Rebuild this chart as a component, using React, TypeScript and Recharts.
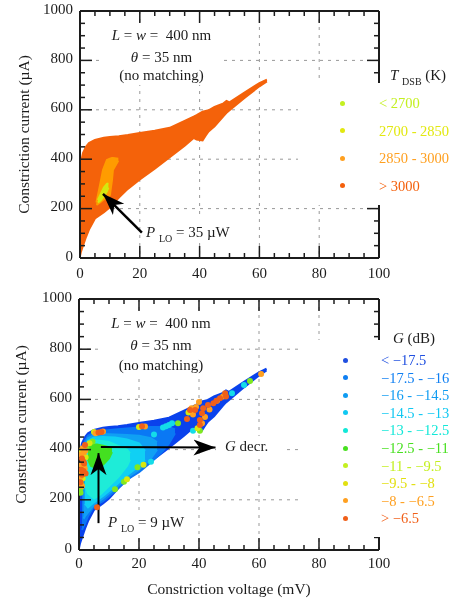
import React from 'react';
import { ComposedChart, Area, Scatter, XAxis, YAxis, CartesianGrid, ReferenceLine, Legend } from 'recharts';

const FONT = '"Liberation Serif", serif';
const INK = '#1c1c1c';

// Outer envelope of the bias region (mV, µA)
const envelopeV = [0, 0.3, 1, 2, 3, 5, 8, 10, 13, 16, 20, 25, 30, 35, 38, 39, 41, 42, 43, 45, 48, 49, 50, 55, 60, 62.5];
const envelopeLo = [8, 25, 50, 85, 115, 160, 185, 205, 245, 280, 318, 362, 408, 455, 486, 480, 476, 495, 512, 533, 575, 588, 598, 648, 695, 715];
const envelopeHi = [340, 385, 425, 450, 465, 478, 487, 490, 493, 498, 506, 515, 527, 555, 572, 578, 592, 595, 598, 612, 626, 636, 630, 670, 708, 722];

// T_DSB regions
const amberV = [5.5, 6.7, 7.7, 9, 10, 10.7, 11, 12.8];
const amberLo = [215, 225, 235, 245, 255, 316, 356, 395];
const amberHi = [225, 295, 356, 397, 402, 405, 405, 402];
const yellowV = [6, 7, 8, 9, 9.5];
const yellowLo = [225, 235, 250, 270, 285];
const yellowHi = [235, 260, 285, 300, 302];

// G regions, from outside to inside
const band1V = [1, 2, 3, 5, 8, 12, 16, 20, 24, 28, 30, 32];
const band1Lo = [80, 105, 135, 175, 195, 235, 280, 310, 350, 395, 425, 465];
const band1Hi = [300, 435, 455, 468, 475, 480, 484, 488, 490, 490, 490, 480];
const band2V = [1.5, 2, 3, 5, 8, 12, 16, 20, 24, 26];
const band2Lo = [125, 135, 150, 180, 205, 245, 288, 320, 365, 400];
const band2Hi = [250, 420, 445, 458, 462, 460, 458, 455, 445, 430];
const band3V = [2, 3, 5, 8, 12, 16, 20, 22];
const band3Lo = [185, 170, 190, 215, 255, 298, 335, 360];
const band3Hi = [300, 435, 448, 450, 448, 440, 425, 395];
const band4V = [2, 3, 5, 7, 10, 13, 16, 17];
const band4Lo = [265, 225, 205, 220, 255, 290, 335, 360];
const band4Hi = [380, 425, 435, 435, 430, 415, 400, 385];
const band5V = [3, 4, 6, 8, 10, 11];
const band5Lo = [360, 335, 325, 340, 365, 390];
const band5Hi = [410, 420, 420, 415, 410, 405];

// G scattered points
const ptsCyanV = [25, 28, 29, 30, 31, 51, 55, 38, 24];
const ptsCyanI = [460, 488, 493, 498, 505, 625, 657, 475, 352];
const ptsGreenV = [12, 15, 19.5, 33, 57, 40.3, 0.5, 0.5, 0.7, 2.5, 4.5];
const ptsGreenI = [242, 272, 330, 505, 673, 475, 228, 245, 262, 405, 432];
const ptsYellowV = [16, 21.5, 20, 0.8, 1.2, 3.5, 5, 39.5, 36.5, 2.2, 0.6];
const ptsYellowI = [282, 340, 490, 395, 285, 425, 470, 485, 548, 370, 310];
const ptsAmberV = [22, 0.7, 1.6, 0.8, 1.7, 0.5, 1, 60.7, 42, 39, 41, 46, 48, 38, 40, 5.5, 8, 43.5, 37.5, 2.1, 1.2, 1.9];
const ptsAmberI = [492, 380, 388, 340, 332, 292, 255, 701, 530, 570, 505, 595, 612, 540, 590, 465, 472, 560, 565, 395, 405, 325];
const ptsRedV = [6, 6.5, 7.5, 21, 2, 1, 1.5, 1.7, 0.8, 1.5, 1, 2.2, 0.5, 48.7, 47, 44.8, 43, 41.4, 41, 40.3, 40.3, 38.7, 37, 36, 45.8, 49];
const ptsRedI = [170, 468, 470, 493, 418, 365, 352, 345, 320, 315, 300, 305, 270, 625, 605, 585, 578, 565, 545, 518, 498, 558, 558, 522, 595, 612];

// Legends
const tLabels = ['< 2700', '2700 - 2850', '2850 - 3000', '> 3000'];
const tColors = ['#c4f020', '#e2e810', '#ffa020', '#f4600c'];
const gLabels = ['< \u221217.5', '\u221217.5 - \u221216', '\u221216 - \u221214.5', '\u221214.5 - \u221213', '\u221213 - \u221212.5', '\u221212.5 - \u221211', '\u221211 - \u22129.5', '\u22129.5 - \u22128', '\u22128 - \u22126.5', '> \u22126.5'];
const gColors = ['#1f4fe0', '#0f7ff2', '#0f9cf2', '#10c8f2', '#12e8d8', '#48e020', '#c4f020', '#e2e010', '#ffa020', '#f0601a'];

const xTicks = [0, 5, 10, 15, 20, 25, 30, 35, 40, 45, 50, 55, 60, 65, 70, 75, 80, 85, 90, 95, 100];
const yTicks = [0, 50, 100, 150, 200, 250, 300, 350, 400, 450, 500, 550, 600, 650, 700, 750, 800, 850, 900, 950, 1000];
const gridV = [20, 40, 60, 80];
const gridI = [200, 400, 600, 800];
const anchorPoint = [{ v: 0, i: 0 }];

const rows = (v: number[], lo: number[], hi: number[]) => v.map((x, k) => ({ v: x, r: [lo[k], hi[k]] }));
const pts = (v: number[], i: number[]) => v.map((x, k) => ({ v: x, i: i[k] }));

const XTick = (side: 'bottom' | 'top', dy: number) => (p: any) => {
  const val = p.payload.value;
  const len = val % 20 === 0 ? 12 : 5;
  const s = side === 'bottom' ? -1 : 1;
  return (
    <g>
      {val > 0 && val < 100 && <line x1={p.x} x2={p.x} y1={p.y} y2={p.y + s * len} stroke={INK} strokeWidth={1.5} />}
      {side === 'bottom' && val % 20 === 0 && (
        <text x={p.x} y={p.y + dy} textAnchor="middle" fontFamily={FONT} fontSize={15} fill={INK}>{val}</text>
      )}
    </g>
  );
};
const YTick = (side: 'left' | 'right') => (p: any) => {
  const val = p.payload.value;
  const len = val % 200 === 0 ? 12 : 5;
  const s = side === 'left' ? 1 : -1;
  return (
    <g>
      {val > 0 && val < 1000 && <line x1={p.x} x2={p.x + s * len} y1={p.y} y2={p.y} stroke={INK} strokeWidth={1.5} />}
      {side === 'left' && val % 200 === 0 && (
        <text x={p.x - 7} y={p.y + 2.5} textAnchor="end" fontFamily={FONT} fontSize={15} fill={INK}>{val}</text>
      )}
    </g>
  );
};

const dot = (color: string) => (p: any) => <circle cx={p.cx} cy={p.cy} r={3} fill={color} />;
const noDot = () => <g />;

const Arrowhead = ({ id }: { id: string }) => (
  <defs>
    <marker id={id} markerUnits="userSpaceOnUse" markerWidth={24} markerHeight={18} refX={22} refY={9} orient="auto">
      <path d="M0 1 L22 9 L0 17 L6 9 Z" fill="#000" />
    </marker>
  </defs>
);

const LegendBox = (labels: string[], colors: string[], firstY: number, step: number, dotX: number, textX: number) => () => (
  <div style={{ position: 'relative', fontFamily: FONT, fontSize: 14.5 }}>
    {labels.map((t, k) => (
      <React.Fragment key={t}>
        <div style={{ position: 'absolute', left: dotX - 2.5, top: firstY + k * step - 2.5, width: 5, height: 5, borderRadius: '50%', background: colors[k] }} />
        <div style={{ position: 'absolute', left: textX, top: firstY + k * step - 9, lineHeight: '18px', color: colors[k], whiteSpace: 'nowrap' }}>{t}</div>
      </React.Fragment>
    ))}
  </div>
);

const Note = ({ left, top, width, height, bg, center, children }: any) => (
  <div style={{ position: 'absolute', left, top, width, height, background: bg ? '#fff' : 'none', fontFamily: FONT, fontSize: 15, lineHeight: '18px', color: INK, whiteSpace: 'pre', textAlign: center ? 'center' : 'left' }}>
    {children}
  </div>
);
const I = ({ children }: any) => <i>{children}</i>;
const Sub = ({ children }: any) => <span style={{ fontSize: 10, position: 'relative', top: 5 }}>{children}</span>;

const commonAxes = (xDy: number, xLabel: any, yOffset: number) => [
  <XAxis key="xb" dataKey="v" type="number" domain={[0, 100]} ticks={xTicks} interval={0} tickSize={0} tickMargin={0} tickLine={false} axisLine={{ stroke: INK, strokeWidth: 2 }} tick={XTick('bottom', xDy)} height={xLabel ? 49 : 27} label={xLabel} allowDataOverflow />,
  <XAxis key="xt" xAxisId="top" dataKey="v" orientation="top" type="number" domain={[0, 100]} ticks={xTicks} interval={0} tickSize={0} tickMargin={0} tickLine={false} axisLine={{ stroke: INK, strokeWidth: 2 }} tick={XTick('top', 0)} height={1} allowDataOverflow />,
  <YAxis key="yl" dataKey="i" type="number" domain={[0, 1000]} ticks={yTicks} interval={0} tickSize={0} tickMargin={0} tickLine={false} axisLine={{ stroke: INK, strokeWidth: 2 }} tick={YTick('left')} width={60} allowDataOverflow label={{ value: 'Constriction current (\u00b5A)', angle: -90, position: 'insideLeft', offset: yOffset, style: { fontFamily: FONT, fontSize: 15.5, fill: INK, textAnchor: 'middle' } }} />,
  <YAxis key="yr" yAxisId="right" dataKey="i" orientation="right" type="number" domain={[0, 1000]} ticks={yTicks} interval={0} tickSize={0} tickMargin={0} tickLine={false} axisLine={{ stroke: INK, strokeWidth: 2 }} tick={YTick('right')} width={1} allowDataOverflow />,
  <Scatter key="anchor" xAxisId="top" yAxisId="right" data={anchorPoint} dataKey="i" shape={noDot} legendType="none" isAnimationActive={false} />,
];

const grid = <CartesianGrid stroke="#999999" strokeWidth={1} strokeDasharray="3 5" verticalValues={gridV} horizontalValues={gridI} />;

const band = (key: string, color: string, v: number[], lo: number[], hi: number[]) => (
  <Area key={key} data={rows(v, lo, hi)} dataKey="r" type="linear" stroke={color} strokeWidth={2} fill={color} fillOpacity={1} dot={false} activeDot={false} isAnimationActive={false} />
);

export default function App() {
  return (
    <div style={{ position: 'absolute', left: 0, top: 0, width: 456, height: 599, overflow: 'hidden', background: '#fff', filter: 'blur(0.4px)' }}>
      <div style={{ position: 'absolute', left: 0, top: 0 }}>
        <ComposedChart width={456} height={285} margin={{ top: 10, right: 76, bottom: 0, left: 20 }}>
          {grid}
          {commonAxes(20, undefined, 3)}
          {band('env', '#f4620a', envelopeV, envelopeLo, envelopeHi)}
          {band('amber', '#ff9c00', amberV, amberLo, amberHi)}
          {band('yellow', '#d4e810', yellowV, yellowLo, yellowHi)}
          <Arrowhead id="headA" />
          <ReferenceLine segment={[{ x: 20.7, y: 103 }, { x: 7.7, y: 260 }]} stroke="#000" strokeWidth={2.5} markerEnd="url(#headA)" />
          <Legend layout="vertical" align="center" verticalAlign="middle" width={158} wrapperStyle={{ left: 298, top: 83, width: 158, height: 122, background: '#fff' }} content={LegendBox(tLabels, tColors, 20, 27.5, 44, 81)} />
        </ComposedChart>
      </div>

      <Note left={103} top={25} width={117} height={60} bg center>
        <div style={{ position: 'absolute', top: 1, width: '100%' }}><I>L</I> = <I>w</I> =  400 nm</div>
        <div style={{ position: 'absolute', top: 23, width: '100%' }}><I>θ</I> = 35 nm</div>
        <div style={{ position: 'absolute', top: 41, width: '100%' }}>(no matching)</div>
      </Note>
      <Note left={146} top={219} width={87} height={24} bg>
        <div style={{ position: 'absolute', top: 4 }}><I>P</I> <Sub>LO</Sub> = 35 µW</div>
      </Note>
      <Note left={390} top={66}><I>T</I> <Sub>DSB</Sub> (K)</Note>

      <div style={{ position: 'absolute', left: 0, top: 285 }}>
        <ComposedChart width={456} height={314} margin={{ top: 13, right: 76, bottom: 0, left: 19 }}>
          {grid}
          {commonAxes(18, { value: 'Constriction voltage (mV)', position: 'insideBottom', offset: 5, style: { fontFamily: FONT, fontSize: 15.5, fill: INK } }, 1)}
          {band('env2', '#0a42ec', envelopeV, envelopeLo, envelopeHi)}
          {band('b1', '#0a78f4', band1V, band1Lo, band1Hi)}
          {band('b2', '#10a0f4', band2V, band2Lo, band2Hi)}
          {band('b3', '#10d0f4', band3V, band3Lo, band3Hi)}
          {band('b4', '#1eecd8', band4V, band4Lo, band4Hi)}
          {band('b5', '#44e020', band5V, band5Lo, band5Hi)}
          <Scatter data={pts(ptsCyanV, ptsCyanI)} dataKey="i" shape={dot('#14dce8')} isAnimationActive={false} />
          <Scatter data={pts(ptsGreenV, ptsGreenI)} dataKey="i" shape={dot('#80e820')} isAnimationActive={false} />
          <Scatter data={pts(ptsYellowV, ptsYellowI)} dataKey="i" shape={dot('#d8e810')} isAnimationActive={false} />
          <Scatter data={pts(ptsAmberV, ptsAmberI)} dataKey="i" shape={dot('#ffa020')} isAnimationActive={false} />
          <Scatter data={pts(ptsRedV, ptsRedI)} dataKey="i" shape={dot('#f0601a')} isAnimationActive={false} />
          <Arrowhead id="headB" />
          <ReferenceLine segment={[{ x: 6.5, y: 107 }, { x: 6.5, y: 386 }]} stroke="#000" strokeWidth={2} markerEnd="url(#headB)" />
          <ReferenceLine segment={[{ x: 7.3, y: 410 }, { x: 45.5, y: 408 }]} stroke="#000" strokeWidth={2} markerEnd="url(#headB)" />
          <Legend layout="vertical" align="center" verticalAlign="middle" width={158} wrapperStyle={{ left: 298, top: 55, width: 158, height: 197, background: '#fff' }} content={LegendBox(gLabels, gColors, 20, 17.6, 47, 83)} />
        </ComposedChart>
      </div>

      <Note left={100} top={314} width={122} height={61} bg center>
        <div style={{ position: 'absolute', top: 0, width: '100%' }}><I>L</I> = <I>w</I> =  400 nm</div>
        <div style={{ position: 'absolute', top: 22, width: '100%' }}><I>θ</I> = 35 nm</div>
        <div style={{ position: 'absolute', top: 42, width: '100%' }}>(no matching)</div>
      </Note>
      <Note left={108} top={510} width={84} height={27} bg>
        <div style={{ position: 'absolute', top: 3 }}><I>P</I> <Sub>LO</Sub> = 9 µW</div>
      </Note>
      <Note left={216} top={436} width={66} height={22} bg>
        <div style={{ position: 'absolute', left: 9, top: 1 }}><I>G</I> decr.</div>
      </Note>
      <Note left={393} top={329}><I>G</I> (dB)</Note>
    </div>
  );
}
